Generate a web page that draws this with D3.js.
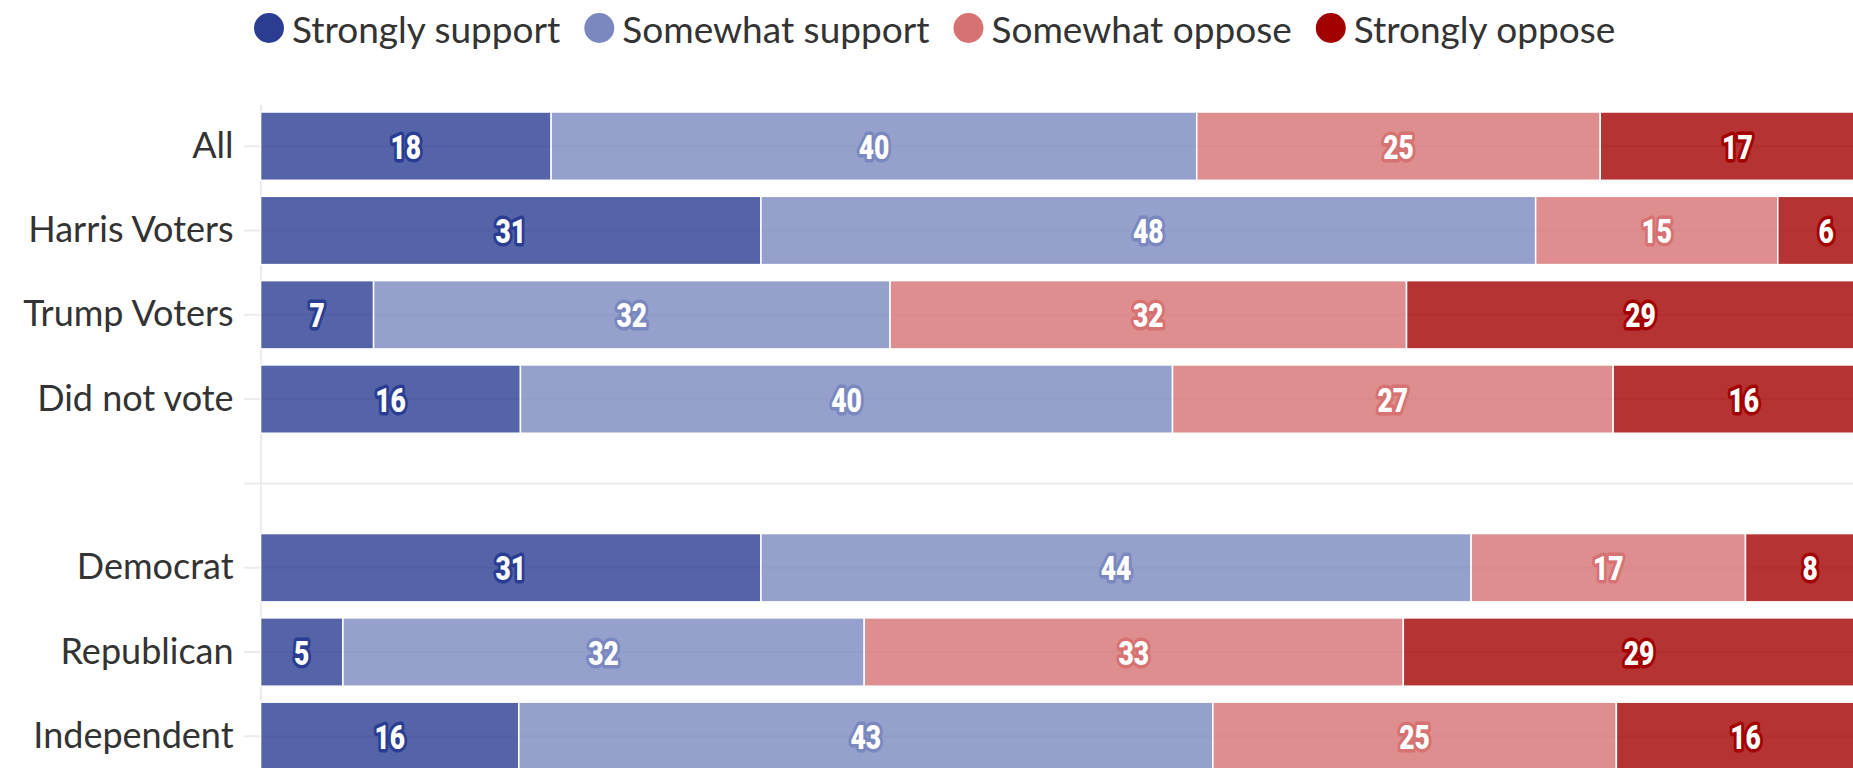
<!DOCTYPE html>
<html>
<head>
<meta charset="utf-8">
<script src="https://cdn.jsdelivr.net/npm/d3@7"></script>
<style>
  html, body { margin: 0; padding: 0; background: #fff; overflow: hidden; }
  svg { display: block; }
</style>
</head>
<body>
<svg id="chart" width="1853" height="768"></svg>
<script>
// ---- data ----
const categories = ["All", "Harris Voters", "Trump Voters", "Did not vote", "", "Democrat", "Republican", "Independent"];
const seriesNames = ["Strongly support", "Somewhat support", "Somewhat oppose", "Strongly oppose"];
const stronglySupport = [18, 31, 7, 16.1, null, 31, 5.1, 16];
const somewhatSupport = [40, 48, 32, 40.4, null, 44, 32.3, 43];
const somewhatOppose  = [25, 15, 32, 27.3, null, 17, 33.4, 25];
const stronglyOppose  = [17, 6, 29, 16.2, null, 8, 29.2, 16];
const seriesColors = ["#2b3d93", "#7a88bf", "#d67272", "#a30000"];

const seriesValues = [stronglySupport, somewhatSupport, somewhatOppose, stronglyOppose];

// ---- layout ----
const svg = d3.select("#chart");
const x = d3.scaleLinear().domain([0, 100]).range([260.6, 1874.6]);
const y = d3.scaleBand().domain(categories.map((c, i) => i))
  .range([104, 778.5]).paddingInner(0.19).paddingOuter(0.095);

// gridlines (including separator for empty row)
svg.append("g").selectAll("line").data(categories.map((c, i) => i)).join("line")
  .attr("x1", 244).attr("x2", 1853)
  .attr("y1", d => y(d) + y.bandwidth() / 2)
  .attr("y2", d => y(d) + y.bandwidth() / 2)
  .attr("stroke", "#ebebeb").attr("stroke-width", 2);

// axis
const yAxis = d3.axisLeft(y).tickSize(0).tickPadding(27).tickFormat(i => categories[i]);
const ax = svg.append("g").attr("transform", `translate(${x(0)},0)`).call(yAxis);
ax.select(".domain").attr("stroke", "#ebebeb").attr("stroke-width", 2);
ax.selectAll("text")
  .attr("font-family", "Lato, sans-serif")
  .attr("font-size", 36)
  .attr("fill", "#333");

// stacked data
const rows = categories.map((c, i) => {
  let acc = 0;
  return seriesValues.map((vals, s) => {
    const v = vals[i];
    if (v == null) return null;
    const seg = { row: i, s, v, x0: acc, x1: acc + v };
    acc += v;
    return seg;
  }).filter(d => d);
}).flat();

const bars = svg.append("g");
bars.selectAll("rect").data(rows).join("rect")
  .attr("x", d => x(d.x0))
  .attr("width", d => x(d.x1) - x(d.x0))
  .attr("y", d => y(d.row))
  .attr("height", y.bandwidth())
  .attr("fill", d => seriesColors[d.s])
  .attr("fill-opacity", 0.8)
  .attr("stroke", "#fff")
  .attr("stroke-width", 1.5);

bars.selectAll("text").data(rows).join("text")
  .attr("transform", d => `translate(${(x(d.x0) + x(d.x1)) / 2},${y(d.row) + y.bandwidth() / 2 + 1}) scale(0.8,1)`)
  .attr("text-anchor", "middle")
  .attr("dominant-baseline", "central")
  .attr("font-family", "Roboto, sans-serif")
  .attr("font-weight", 900)
  .attr("font-size", 33)
  .attr("fill", "#fff")
  .attr("stroke", d => seriesColors[d.s])
  .attr("stroke-width", 7)
  .attr("stroke-linejoin", "round")
  .attr("paint-order", "stroke")
  .text(d => Math.round(d.v));

// legend
const legend = svg.append("g");
let cx = 269;
seriesNames.forEach((name, i) => {
  const g = legend.append("g");
  g.append("circle").attr("cx", cx).attr("cy", 28).attr("r", 15).attr("fill", seriesColors[i]);
  const t = g.append("text").attr("x", cx + 23).attr("y", 28)
    .attr("dominant-baseline", "central")
    .attr("font-family", "Lato, sans-serif")
    .attr("font-size", 37)
    .attr("fill", "#333")
    .text(name);
  const w = t.node().getComputedTextLength();
  cx = cx + 23 + w + 39;
});
</script>
</body>
</html>
